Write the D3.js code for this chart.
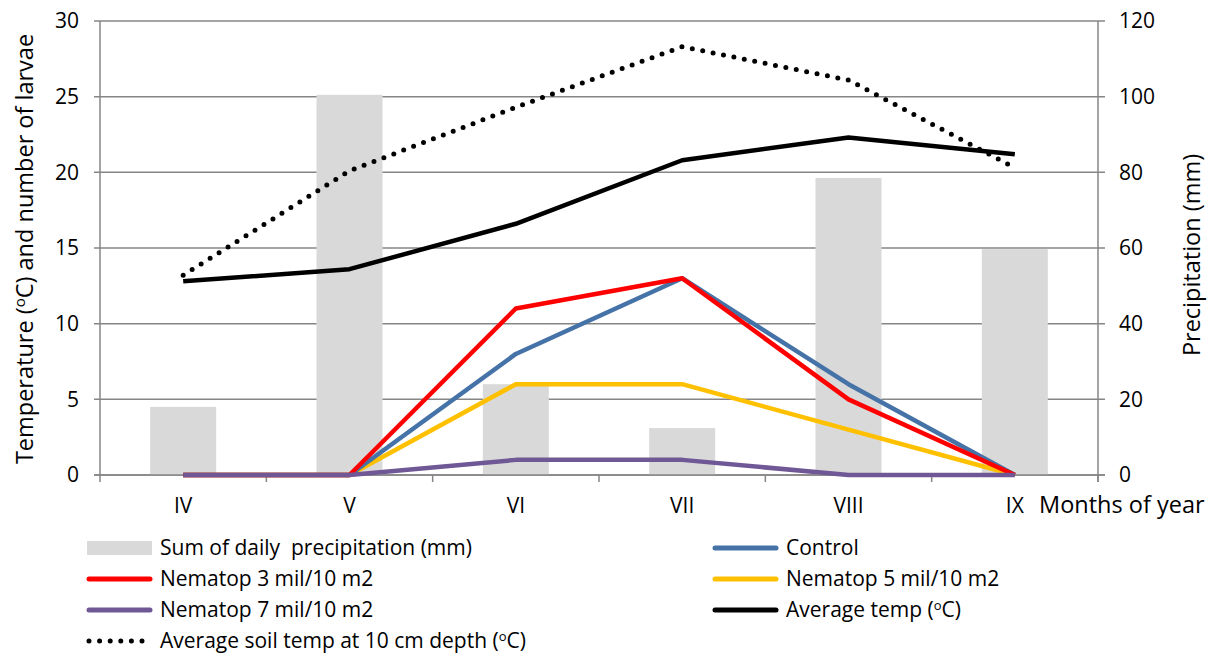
<!DOCTYPE html>
<html><head><meta charset="utf-8">
<script src="https://cdn.jsdelivr.net/npm/d3@7"></script>
<style>
body{margin:0;background:#fff;}
text{font-family:"Open Sans","Liberation Sans",sans-serif;fill:#000;}
</style></head>
<body><svg id="c" width="1213" height="659"></svg>
<script>
const months = ["IV","V","VI","VII","VIII","IX"];
const precipitation = [18, 100.5, 24, 12.4, 78.5, 59.7];
const control = [0, 0, 8, 13, 6, 0];
const nematop3 = [0, 0, 11, 13, 5, 0];
const nematop5 = [0, 0, 6, 6, 3, 0];
const nematop7 = [0, 0, 1, 1, 0, 0];
const avgTemp = [12.8, 13.6, 16.6, 20.8, 22.3, 21.2];
const soilTemp = [13.2, 20.1, 24.3, 28.3, 26.1, 20.3];
const leftTicks = [0,5,10,15,20,25,30];
const rightTicks = [0,20,40,60,80,100,120];

const svg = d3.select("#c");
const L = 100, R = 1098, T = 21, B = 475;
const x = d3.scaleBand().domain(months).range([L,R]);
const yL = d3.scaleLinear().domain([0,30]).range([B,T]);
const yR = d3.scaleLinear().domain([0,120]).range([B,T]);
const axisCol = "#868686";

// gridlines
svg.append("g").selectAll("line").data(leftTicks).join("line")
  .attr("x1", L-6).attr("x2", R+7).attr("y1", d=>yL(d)).attr("y2", d=>yL(d))
  .attr("stroke", axisCol).attr("stroke-width", 1.5);

// bars
const bw = 66;
svg.append("g").selectAll("rect").data(precipitation).join("rect")
  .attr("x", (d,i)=>x(months[i]) + x.bandwidth()/2 - bw/2)
  .attr("width", bw)
  .attr("y", d=>yR(d)).attr("height", d=>B - yR(d))
  .attr("fill", "#d9d9d9");

// axes lines
svg.append("line").attr("x1",L).attr("x2",L).attr("y1",T).attr("y2",B).attr("stroke",axisCol).attr("stroke-width",1.5);
svg.append("line").attr("x1",R).attr("x2",R).attr("y1",T).attr("y2",B+7).attr("stroke",axisCol).attr("stroke-width",1.5);
svg.append("line").attr("x1",L-6).attr("x2",R+7).attr("y1",B).attr("y2",B).attr("stroke",axisCol).attr("stroke-width",1.5);
const bounds = months.map(m=>x(m)).concat([R]);
svg.append("g").selectAll("line").data(bounds).join("line")
  .attr("x1",d=>d).attr("x2",d=>d).attr("y1",B).attr("y2",B+7)
  .attr("stroke",axisCol).attr("stroke-width",1.5);

// tick labels
svg.append("g").selectAll("text").data(leftTicks).join("text")
  .attr("x", 79).attr("y", d=>yL(d)).attr("dy","0.35em")
  .attr("text-anchor","end").attr("font-size",21).text(d=>d);
svg.append("g").selectAll("text").data(rightTicks).join("text")
  .attr("x", 1119).attr("y", d=>yR(d)).attr("dy","0.35em")
  .attr("text-anchor","start").attr("font-size",21).text(d=>d);
svg.append("g").selectAll("text").data(months).join("text")
  .attr("x", d=>x(d)+x.bandwidth()/2).attr("y", 506).attr("dy","0.35em")
  .attr("text-anchor","middle").attr("font-size",21).text(d=>d);
svg.append("text").attr("x",1039).attr("y",505).attr("dy","0.35em").attr("font-size",23.5).text("Months of year");

// axis titles
const lt = svg.append("text").attr("transform","translate(25,249) rotate(-90)")
  .attr("text-anchor","middle").attr("dy","0.35em").attr("font-size",23.5);
lt.append("tspan").text("Temperature (");
lt.append("tspan").attr("font-size",15).attr("dy",-8).text("o");
lt.append("tspan").attr("dy",8).text("C) and number of larvae");
svg.append("text").attr("transform","translate(1192,255) rotate(-90)")
  .attr("text-anchor","middle").attr("dy","0.35em").attr("font-size",23.5).text("Precipitation (mm)");

// lines
const line = d3.line().x((d,i)=>x(months[i])+x.bandwidth()/2).y(d=>yL(d));
const series = [
  {data: soilTemp, color:"#000", dotted:true},
  {data: avgTemp, color:"#000"},
  {data: nematop5, color:"#ffc000"},
  {data: control, color:"#4572a7"},
  {data: nematop3, color:"#ff0000"},
  {data: nematop7, color:"#6f5895"}
];
series.forEach(s=>{
  const p = svg.append("path").attr("d", line(s.data)).attr("fill","none")
    .attr("stroke", s.color);
  if (s.dotted) p.attr("stroke-width",5).attr("stroke-dasharray","0,10.6").attr("stroke-linecap","round");
  else p.attr("stroke-width",4.5).attr("stroke-linejoin","round");
});

// legend
const legend = [
  {label:"Sum of daily  precipitation (mm)", type:"bar", x:87, y:548},
  {label:"Control", type:"line", color:"#4572a7", x:713, y:548},
  {label:"Nematop 3 mil/10 m2", type:"line", color:"#ff0000", x:87, y:579},
  {label:"Nematop 5 mil/10 m2", type:"line", color:"#ffc000", x:713, y:579},
  {label:"Nematop 7 mil/10 m2", type:"line", color:"#6f5895", x:87, y:610},
  {label:"Average temp (ºC)", type:"line", color:"#000", x:713, y:610, sup:true},
  {label:"Average soil temp at 10 cm depth (ºC)", type:"dot", color:"#000", x:87, y:641, sup:true}
];
legend.forEach(l=>{
  const g = svg.append("g");
  if (l.type==="bar") g.append("rect").attr("x",l.x).attr("y",l.y-7).attr("width",65).attr("height",14).attr("fill","#d9d9d9");
  else if (l.type==="line") g.append("line").attr("x1",l.x+2).attr("x2",l.x+63).attr("y1",l.y).attr("y2",l.y)
    .attr("stroke",l.color).attr("stroke-width",5).attr("stroke-linecap","round");
  else g.append("line").attr("x1",l.x+2).attr("x2",l.x+63).attr("y1",l.y).attr("y2",l.y)
    .attr("stroke",l.color).attr("stroke-width",5).attr("stroke-linecap","round").attr("stroke-dasharray","0,10.6");
  const t = g.append("text").attr("x",l.x+73).attr("y",l.y).attr("dy","0.35em").attr("font-size",21).style("white-space","pre");
  if (l.sup) {
    const parts = l.label.split("º");
    t.append("tspan").text(parts[0]);
    t.append("tspan").attr("font-size",13).attr("dy",-7).text("o");
    t.append("tspan").attr("dy",7).text(parts[1]);
  } else t.text(l.label);
});
</script></body></html>
